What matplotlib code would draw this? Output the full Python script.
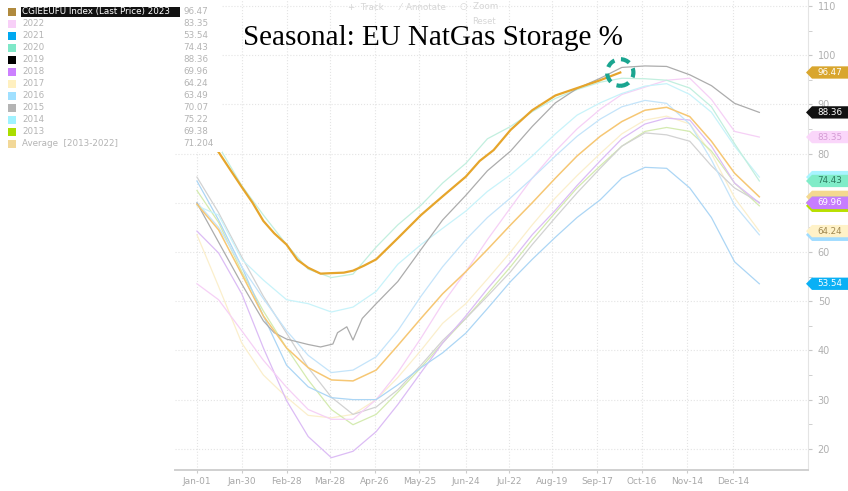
import matplotlib.pyplot as plt
import numpy as np
from matplotlib.patches import Polygon, Rectangle, Ellipse

# days since Jan-01
days = [0, 14, 29, 43, 58, 72, 87, 101, 116, 130, 145, 159, 174, 188, 203, 217, 232, 246, 261, 275, 290, 304, 319, 333, 348, 364]

y2013 = [72.5, 66, 56, 48, 40.5, 34, 28, 24.9, 27, 31.5, 36.5, 41.5, 46.5, 51.5, 57, 62.5, 68, 73, 77.5, 81.5, 84.5, 85.3, 84.5, 80.5, 74, 69.38]
y2014 = [69.38, 67.5, 58.5, 54.3, 50.3, 49.5, 47.8, 48.8, 52, 57.5, 61.5, 64.8, 68.3, 72.3, 75.7, 79.5, 84, 87.8, 90.3, 92.2, 93.7, 94.2, 92, 88.4, 81.5, 75.22]
y2015 = [75.22, 68, 59, 51, 43.5, 36.5, 30.5, 27, 28.5, 32, 37, 42, 46.5, 51, 56, 61.5, 67, 72, 77, 81.5, 84.2, 83.8, 82.5, 77.5, 73, 70.07]
y2016 = [70.07, 65, 57, 50.5, 44, 39, 35.5, 36, 38.7, 44, 51, 57, 62.5, 67, 71, 75, 79.5, 83.5, 87, 89.5, 90.8, 90.2, 86, 78.7, 69.5, 63.49]
y2017 = [63.49, 53, 41.5, 35, 30.5, 26.8, 26.3, 27, 30, 34.5, 40, 45.5, 49.5, 54.5, 60, 65.5, 71, 75.5, 80, 84, 86.8, 87.6, 86, 80, 71, 64.24]
y2018 = [64.24, 59.8, 51.5, 40.5, 29.8, 22.5, 18.2, 19.5, 23.5, 29, 35.5, 41.5, 47, 52.5, 58, 63.5, 68.5, 73.5, 78.5, 83, 86, 87.2, 86.8, 81.5, 74, 69.96]
y2020 = [88.36, 81.5, 73.5, 67.5, 61.5, 56.5, 54.8, 55.5, 61, 65.5, 69.5, 74, 78, 83, 85.5, 88.5, 91.2, 93, 94.5, 95.3, 95.2, 94.9, 93.3, 89.5, 82, 74.43]
y2021 = [74.43, 66.5, 57, 47, 37, 32.6, 30.4, 30, 30, 33, 36.5, 39.5, 43.5, 48.5, 54, 58.5, 63, 67, 70.6, 75, 77.2, 77, 73, 67, 58, 53.54]
y2022 = [53.54, 50.3, 44, 38, 32.5, 28, 26, 26, 30, 35.5, 42.5, 49.5, 56, 62.5, 69, 75, 80.5, 85, 89, 92, 93.5, 94.9, 95.3, 91, 84.5, 83.35]
y_avg = [69.7, 64.5, 55.5, 47, 40.5, 36.5, 34, 33.8, 36, 41, 46.5, 51.5, 56, 60.5, 65.5, 70, 75, 79.5, 83.5, 86.5, 88.8, 89.4, 87.5, 82.5, 76, 71.204]

days_2019 = [0, 14, 29, 43, 50, 58, 72, 80, 88, 91, 97, 101, 107, 116, 130, 145, 159, 174, 188, 203, 217, 232, 246, 261, 275, 290, 304, 319, 333, 348, 364]
y2019 = [69.96, 62, 53.5, 46, 43.6, 42.3, 41.2, 40.7, 41.3, 43.6, 44.8, 42.1, 46.5, 49.5, 54, 60.5, 66.5, 71.5, 76.5, 80.5, 85.5, 90.3, 93.2, 95.3, 97.5, 97.8, 97.7, 96, 93.8, 90.2, 88.36]

days_2023 = [0, 8, 14, 22, 29, 36, 43, 50, 58, 65, 72, 80, 87, 95, 101, 108, 116, 130, 145, 159, 174, 183, 192, 203, 217, 232, 246, 261, 274]
y2023 = [83.35, 82.3, 80.3, 76.5, 73.2, 70, 66.3, 63.8, 61.5, 58.4, 56.8, 55.6, 55.7, 55.8, 56.2, 57.2, 58.5, 62.8, 67.5, 71.3, 75.3, 78.5, 80.7, 84.8, 88.8, 91.8, 93.3, 94.9, 96.47]

tick_days = [0, 29, 58, 86, 115, 144, 174, 202, 230, 259, 288, 317, 347]
tick_labels = ["Jan-01", "Jan-30", "Feb-28", "Mar-28", "Apr-26", "May-25", "Jun-24",
               "Jul-22", "Aug-19", "Sep-17", "Oct-16", "Nov-14", "Dec-14"]

legend_labels = ["CGIEEUFU Index (Last Price) 2023", "2022", "2021", "2020", "2019", "2018",
                 "2017", "2016", "2015", "2014", "2013", "Average  [2013-2022]"]
legend_values = ["96.47", "83.35", "53.54", "74.43", "88.36", "69.96",
                 "64.24", "63.49", "70.07", "75.22", "69.38", "71.204"]
legend_colors = ["#b08a3e", "#f8d0f8", "#00a8f0", "#7fe8c8", "#000000", "#cc80ff",
                 "#fff0c0", "#a0e0ff", "#b4b4b4", "#a0f2ff", "#aadd00", "#f2d898"]

W, H = 848, 491
fig = plt.figure(figsize=(W / 100, H / 100), dpi=100)
fig.patch.set_facecolor("white")

ax_l, ax_r, ax_b, ax_t = 175, 808, 470, 0
ax = fig.add_axes([ax_l / W, 1 - ax_b / H, (ax_r - ax_l) / W, (ax_b - ax_t) / H])

# faint history lines
faint = [
    (days, y2017, "#fbefcc"),
    (days, y2013, "#d4ebb0"),
    (days, y2015, "#d2d2d2"),
    (days, y2018, "#dcbcf5"),
    (days, y2022, "#f6d0f6"),
    (days, y2021, "#acd6f5"),
    (days, y2016, "#c4e4fa"),
    (days, y2014, "#c8f3fa"),
    (days, y2020, "#c2efdf"),
]
for d, v, c in faint:
    ax.plot(d, v, color=c, lw=0.9, zorder=2)

ax.plot(days_2019, y2019, color="#acacac", lw=0.9, zorder=3)
ax.plot(days, y_avg, color="#f6c774", lw=1.1, zorder=3)
ax.plot(days_2023, y2023, color="#e6a52b", lw=1.6, zorder=4)

# dashed circle at the last 2023 point
ax.add_patch(Ellipse((days_2023[-1], y2023[-1]), 17, 5.4, fill=False,
                     edgecolor="#1aa590", lw=3.0, linestyle=(0, (2.2, 1.6)), zorder=6))

ax.set_xlim(-14.2, 395.5)
ax.set_ylim(15.7, 111.2)
ax.set_xticks(tick_days)
ax.set_xticklabels(tick_labels)
ax.yaxis.tick_right()
ax.set_yticks(np.arange(20, 111, 10))
ax.set_yticks(np.arange(25, 111, 10), minor=True)
ax.tick_params(axis="y", which="both", colors="#c8c8c8", labelcolor="#b0b0b0",
               labelsize=7, length=3, pad=4)
ax.tick_params(axis="x", colors="#cccccc", labelcolor="#a8a8a8", labelsize=6.5,
               length=2, pad=3)
ax.grid(True, linestyle=":", color="#e4e4e4", lw=0.8)
for s in ["top", "left"]:
    ax.spines[s].set_visible(False)
ax.spines["right"].set_color("#e4e4e4")
ax.spines["bottom"].set_color("#d0d0d0")
ax.spines["bottom"].set_linewidth(1.4)

# price tags on the right (hidden ones first)
tags = [
    (75.22, "#a8f4ff", "#a8f4ff", ""),
    (71.204, "#f4d890", "#f4d890", ""),
    (70.07, "#bbbbbb", "#bbbbbb", ""),
    (69.38, "#b8e000", "#b8e000", ""),
    (63.49, "#a0dcff", "#a0dcff", ""),
    (96.47, "#d9a62e", "white", "96.47"),
    (88.36, "#111111", "white", "88.36"),
    (83.35, "#fad6fa", "#d49ad4", "83.35"),
    (74.43, "#80ecc8", "#2d7a60", "74.43"),
    (69.96, "#c77dff", "white", "69.96"),
    (64.24, "#fff2c8", "#a08850", "64.24"),
    (53.54, "#0ab0f5", "white", "53.54"),
]
tr = ax.get_yaxis_transform()
aw = ax_r - ax_l
for val, bg, fg, txt in tags:
    h = 1.25
    pts = [((806 - ax_l) / aw, val), ((812 - ax_l) / aw, val + h), ((849 - ax_l) / aw, val + h),
           ((849 - ax_l) / aw, val - h), ((812 - ax_l) / aw, val - h)]
    ax.add_patch(Polygon(pts, closed=True, facecolor=bg, edgecolor="none",
                         transform=tr, clip_on=False, zorder=7))
    if txt:
        ax.text((830 - ax_l) / aw, val, txt, transform=tr, ha="center", va="center",
                fontsize=6.3, color=fg, zorder=8, clip_on=False)

# legend block, top left
fig.add_artist(Rectangle((0, 1 - 152 / H), 222 / W, 152 / H, transform=fig.transFigure,
                         facecolor="white", edgecolor="none", zorder=5))
for i, (lab, val, c) in enumerate(zip(legend_labels, legend_values, legend_colors)):
    yc = 11.7 + i * 12.0
    fig.add_artist(Rectangle((8 / W, 1 - (yc + 4) / H), 8 / W, 8 / H, transform=fig.transFigure,
                             facecolor=c, edgecolor="none", zorder=6))
    if i == 0:
        fig.add_artist(Rectangle((21 / W, 1 - (yc + 5) / H), 159 / W, 10 / H,
                                 transform=fig.transFigure, facecolor="#111111",
                                 edgecolor="none", zorder=6))
        col = "white"
    else:
        col = "#b4b4b4"
    fig.text(22 / W, 1 - yc / H, lab, fontsize=6.3, color=col, va="center", ha="left", zorder=7)
    fig.text(183 / W, 1 - yc / H, val, fontsize=6.3, color="#b4b4b4", va="center",
             ha="left", zorder=7)

# toolbar remnants
tool_col = "#d6d6d6"
fig.text(348 / W, 1 - 7 / H, "+  Track", fontsize=6.3, color=tool_col, va="center")
fig.text(400 / W, 1 - 7 / H, "⁄  Annotate", fontsize=6.3, color=tool_col, va="center")
fig.text(460 / W, 1 - 7 / H, "○  Zoom", fontsize=6.3, color=tool_col, va="center")
fig.text(472 / W, 1 - 21 / H, "Reset", fontsize=6, color=tool_col, va="center")

fig.text(433 / W, 1 - 38 / H, "Seasonal: EU NatGas Storage %", fontsize=21,
         family="Liberation Serif", color="black", ha="center", va="center", zorder=9)

fig.savefig("out.png", dpi=100)
